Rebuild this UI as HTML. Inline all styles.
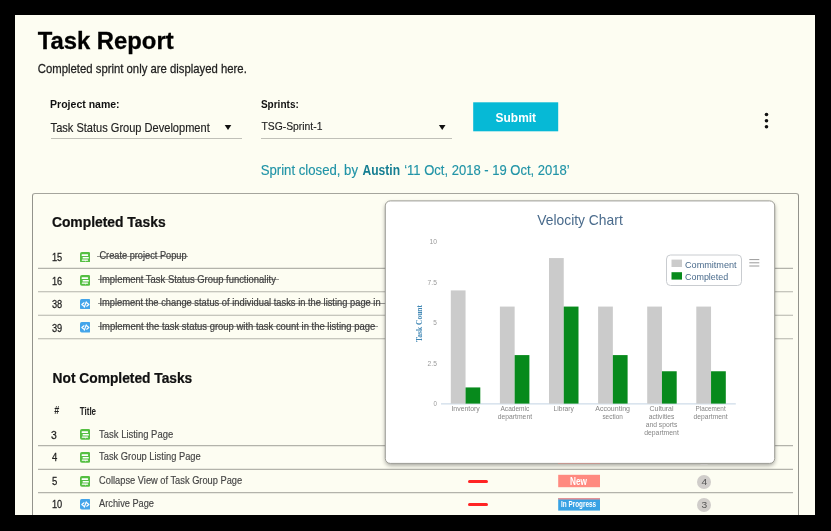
<!DOCTYPE html>
<html>
<head>
<meta charset="utf-8">
<title>Task Report</title>
<style>
html,body{margin:0;padding:0;}
body{width:831px;height:531px;background:#000;overflow:hidden;position:relative;font-family:"Liberation Sans",sans-serif;}
#page{position:absolute;left:0;top:0;width:831px;height:531px;overflow:hidden;filter:blur(0.4px);}
#bg{position:absolute;left:15px;top:15px;width:800px;height:500px;background:#fdfdf2;}
.t{position:absolute;white-space:nowrap;transform-origin:0 0;line-height:1;}
.strike{}
.a{position:absolute;}
.ul{position:absolute;height:1px;background:#c0c0b8;}
.arrow{position:absolute;width:0;height:0;border-left:3px solid transparent;border-right:3px solid transparent;border-top:4.5px solid #111;}
#submit{position:absolute;left:473px;top:102px;width:85px;height:29px;background:#06b9d6;}
#panel{position:absolute;left:32px;top:193px;width:765px;height:340px;border:1px solid #93938c;border-top-color:#a5a59d;border-radius:3px;}
.rl{position:absolute;left:38px;width:755px;height:1px;background:#b9b9b0;}
.sl{position:absolute;height:1px;background:rgba(80,80,80,0.6);}
#popup{position:absolute;left:385px;top:201px;width:390px;height:263px;background:#fff;border:1px solid #9b9b95;border-radius:5px;box-shadow:0 2px 4px rgba(0,0,0,0.33);box-sizing:border-box;}
.dash{position:absolute;left:467.8px;width:20.4px;height:3px;background:#ff2424;border-radius:1.5px;}
.tag{position:absolute;left:558.3px;width:41.8px;}
.badge{position:absolute;left:697px;width:14px;height:14px;border-radius:7px;background:#d0cdca;}
.frame{position:absolute;background:#000;}
</style>
</head>
<body>
<div id="page">
  <div id="bg"></div>
  <div class="ul" style="left:50.5px;top:138px;width:191.5px;"></div>
  <div class="ul" style="left:260.5px;top:138px;width:191px;"></div>
  <svg class="a" style="left:0;top:0;" width="831" height="200" viewBox="0 0 831 200"><path d="M224.7 125.1h6.6l-3.3 4.9z" fill="#111"/><path d="M438.9 125.1h6.6l-3.3 4.9z" fill="#111"/></svg>
  <svg class="a" style="left:0;top:0;" width="831" height="200" viewBox="0 0 831 200"><rect x="473.2" y="102.3" width="85" height="29" fill="#06b9d6"/></svg>
  <svg class="a" style="left:762px;top:110px;" width="9" height="20" viewBox="0 0 9 20"><circle cx="4.5" cy="4.5" r="1.8" fill="#111"/><circle cx="4.5" cy="10.7" r="1.8" fill="#111"/><circle cx="4.5" cy="16.8" r="1.8" fill="#111"/></svg>
  <div id="panel"></div>
  <svg class="a" style="left:0;top:0;" width="831" height="531" viewBox="0 0 831 531"><line x1="38" y1="268.4" x2="793" y2="268.4" stroke="#b3b3ab" stroke-width="1.1"/><line x1="38" y1="291.8" x2="793" y2="291.8" stroke="#b3b3ab" stroke-width="1.1"/><line x1="38" y1="315.2" x2="793" y2="315.2" stroke="#b3b3ab" stroke-width="1.1"/><line x1="38" y1="338.8" x2="793" y2="338.8" stroke="#b3b3ab" stroke-width="1.1"/><line x1="38" y1="445.6" x2="793" y2="445.6" stroke="#b3b3ab" stroke-width="1.1"/><line x1="38" y1="469.4" x2="793" y2="469.4" stroke="#b3b3ab" stroke-width="1.1"/><line x1="38" y1="492.6" x2="793" y2="492.6" stroke="#b3b3ab" stroke-width="1.1"/></svg>
  <svg class="a" style="left:79.6px;top:251.7px;" width="10.5" height="10.8" viewBox="0 0 10.5 10.8"><rect x="0" y="0" width="10.5" height="10.7" rx="1.9" fill="#55bf42"/><rect x="1.6" y="2.3" width="6.5" height="1.7" rx="0.4" fill="#fff"/><rect x="2.6" y="4.9" width="6.2" height="1.7" rx="0.4" fill="#fff"/><rect x="1.8" y="7.5" width="6.3" height="1.3" rx="0.4" fill="#fff"/><path d="M4.4 8.6h2.2l-1.1 1.0z" fill="#fff"/></svg>
  <svg class="a" style="left:79.6px;top:275.2px;" width="10.5" height="10.8" viewBox="0 0 10.5 10.8"><rect x="0" y="0" width="10.5" height="10.7" rx="1.9" fill="#55bf42"/><rect x="1.6" y="2.3" width="6.5" height="1.7" rx="0.4" fill="#fff"/><rect x="2.6" y="4.9" width="6.2" height="1.7" rx="0.4" fill="#fff"/><rect x="1.8" y="7.5" width="6.3" height="1.3" rx="0.4" fill="#fff"/><path d="M4.4 8.6h2.2l-1.1 1.0z" fill="#fff"/></svg>
  <svg class="a" style="left:79.6px;top:298.7px;" width="10.5" height="10.8" viewBox="0 0 10.5 10.8"><rect x="0" y="0" width="10.5" height="10.5" rx="1.7" fill="#44a5ea"/><path d="M4.0 3.8L1.8 5.5l2.2 1.7M6.7 3.8l2.2 1.7-2.2 1.7M6.2 2.9L4.4 8.1" stroke="#fff" stroke-width="1.15" fill="none" stroke-linecap="round" stroke-linejoin="round"/></svg>
  <svg class="a" style="left:79.6px;top:322.2px;" width="10.5" height="10.8" viewBox="0 0 10.5 10.8"><rect x="0" y="0" width="10.5" height="10.5" rx="1.7" fill="#44a5ea"/><path d="M4.0 3.8L1.8 5.5l2.2 1.7M6.7 3.8l2.2 1.7-2.2 1.7M6.2 2.9L4.4 8.1" stroke="#fff" stroke-width="1.15" fill="none" stroke-linecap="round" stroke-linejoin="round"/></svg>
  <svg class="a" style="left:79.6px;top:429.0px;" width="10.5" height="10.8" viewBox="0 0 10.5 10.8"><rect x="0" y="0" width="10.5" height="10.7" rx="1.9" fill="#55bf42"/><rect x="1.6" y="2.3" width="6.5" height="1.7" rx="0.4" fill="#fff"/><rect x="2.6" y="4.9" width="6.2" height="1.7" rx="0.4" fill="#fff"/><rect x="1.8" y="7.5" width="6.3" height="1.3" rx="0.4" fill="#fff"/><path d="M4.4 8.6h2.2l-1.1 1.0z" fill="#fff"/></svg>
  <svg class="a" style="left:79.6px;top:452.4px;" width="10.5" height="10.8" viewBox="0 0 10.5 10.8"><rect x="0" y="0" width="10.5" height="10.7" rx="1.9" fill="#55bf42"/><rect x="1.6" y="2.3" width="6.5" height="1.7" rx="0.4" fill="#fff"/><rect x="2.6" y="4.9" width="6.2" height="1.7" rx="0.4" fill="#fff"/><rect x="1.8" y="7.5" width="6.3" height="1.3" rx="0.4" fill="#fff"/><path d="M4.4 8.6h2.2l-1.1 1.0z" fill="#fff"/></svg>
  <svg class="a" style="left:79.6px;top:475.9px;" width="10.5" height="10.8" viewBox="0 0 10.5 10.8"><rect x="0" y="0" width="10.5" height="10.7" rx="1.9" fill="#55bf42"/><rect x="1.6" y="2.3" width="6.5" height="1.7" rx="0.4" fill="#fff"/><rect x="2.6" y="4.9" width="6.2" height="1.7" rx="0.4" fill="#fff"/><rect x="1.8" y="7.5" width="6.3" height="1.3" rx="0.4" fill="#fff"/><path d="M4.4 8.6h2.2l-1.1 1.0z" fill="#fff"/></svg>
  <svg class="a" style="left:79.6px;top:499.3px;" width="10.5" height="10.8" viewBox="0 0 10.5 10.8"><rect x="0" y="0" width="10.5" height="10.5" rx="1.7" fill="#44a5ea"/><path d="M4.0 3.8L1.8 5.5l2.2 1.7M6.7 3.8l2.2 1.7-2.2 1.7M6.2 2.9L4.4 8.1" stroke="#fff" stroke-width="1.15" fill="none" stroke-linecap="round" stroke-linejoin="round"/></svg>
  <div class="sl" style="left:97.4px;top:255.8px;width:90.8px;"></div>
  <div class="sl" style="left:97.6px;top:279.3px;width:181.2px;"></div>
  <div class="sl" style="left:97.6px;top:302.8px;width:288.4px;"></div>
  <div class="sl" style="left:97.6px;top:326.3px;width:280.2px;"></div>
  <div class="dash" style="top:479.7px;"></div>
  <div class="dash" style="top:503.2px;"></div>
  <svg class="a" style="left:0;top:0;" width="831" height="531" viewBox="0 0 831 531"><rect x="558.2" y="451.6" width="41.8" height="12.4" fill="#ff8a80"/><rect x="558.2" y="474.8" width="41.8" height="12.4" fill="#ff8a80"/><rect x="558.2" y="498.1" width="41.8" height="12.5" fill="#38a2e4"/><rect x="558.2" y="498.1" width="41.8" height="1.4" fill="#f58f8c"/></svg>
  <div class="badge" style="top:451px;"></div>
  <div class="badge" style="top:474.6px;"></div>
  <div class="badge" style="top:497.7px;"></div>
  <svg class="a" style="left:0;top:0;overflow:visible;" width="831" height="531" viewBox="0 0 831 531"><defs><filter id="sh" x="-5%" y="-5%" width="110%" height="112%"><feGaussianBlur stdDeviation="2"/></filter></defs><rect x="385.3" y="203" width="389.4" height="262.4" rx="5" fill="#000" opacity="0.36" filter="url(#sh)"/><rect x="385.3" y="200.9" width="389.4" height="262.5" rx="5" fill="#fff" stroke="#9d9d96" stroke-width="1"/></svg>
  <div class="a" style="left:558.3px;top:463.2px;width:41.8px;height:1px;background:rgba(255,138,128,0.35);"></div>
  <div class="a" style="left:700px;top:464px;width:8px;height:1.4px;background:#c9c7c3;border-radius:0 0 4px 4px;"></div>
  <svg class="a" style="left:0;top:0;" width="831" height="531" viewBox="0 0 831 531"><line x1="441" y1="403.9" x2="735.8" y2="403.9" stroke="#c3d3e3" stroke-width="1"/><rect x="450.80" y="290.41" width="14.75" height="113.19" fill="#cbcbcb"/><rect x="465.55" y="387.43" width="14.75" height="16.17" fill="#078a1c"/><rect x="499.90" y="306.58" width="14.75" height="97.02" fill="#cbcbcb"/><rect x="514.65" y="355.09" width="14.75" height="48.51" fill="#078a1c"/><rect x="549.00" y="258.07" width="14.75" height="145.53" fill="#cbcbcb"/><rect x="563.75" y="306.58" width="14.75" height="97.02" fill="#078a1c"/><rect x="598.10" y="306.58" width="14.75" height="97.02" fill="#cbcbcb"/><rect x="612.85" y="355.09" width="14.75" height="48.51" fill="#078a1c"/><rect x="647.20" y="306.58" width="14.75" height="97.02" fill="#cbcbcb"/><rect x="661.95" y="371.26" width="14.75" height="32.34" fill="#078a1c"/><rect x="696.30" y="306.58" width="14.75" height="97.02" fill="#cbcbcb"/><rect x="711.05" y="371.26" width="14.75" height="32.34" fill="#078a1c"/><rect x="666.5" y="255" width="75" height="30.5" rx="4" fill="#fff" stroke="#c9ccd0" stroke-width="1"/><rect x="671.5" y="259.6" width="10.5" height="7.4" fill="#cbcbcb"/><rect x="671.5" y="272.2" width="10.5" height="7.4" fill="#078a1c"/><line x1="749.3" y1="259.6" x2="759.3" y2="259.6" stroke="#9a9a9a" stroke-width="1"/><line x1="749.3" y1="262.8" x2="759.3" y2="262.8" stroke="#9a9a9a" stroke-width="1"/><line x1="749.3" y1="266.0" x2="759.3" y2="266.0" stroke="#9a9a9a" stroke-width="1"/></svg>
  <div class="t" style="left:415.5px;top:341.5px;font-family:'Liberation Serif',serif;font-weight:bold;font-size:7.5px;color:#3f86b4;transform:rotate(-90deg) scaleX(1);">Task Count</div>
  <div class="t" style="left:37px;top:28px;font-size:25px;font-weight:bold;color:#000;-webkit-text-stroke:0.3px #000;transform:translate(0.70px,0.27px) scale(0.953,0.978);">Task Report</div>
  <div class="t" style="left:37px;top:62px;font-size:12.5px;color:#222;-webkit-text-stroke:0.25px #222;transform:translate(0.80px,0.43px) scale(0.906,1.041);">Completed sprint only are displayed here.</div>
  <div class="t" style="left:50px;top:98px;font-size:12px;font-weight:bold;color:#111;transform:translate(0.10px,0.21px) scale(0.876,0.952);">Project name:</div>
  <div class="t" style="left:50px;top:121px;font-size:12px;color:#222;-webkit-text-stroke:0.15px #222;transform:translate(0.60px,0.67px) scale(0.921,0.996);">Task Status Group Development</div>
  <div class="t" style="left:260px;top:98px;font-size:12px;font-weight:bold;color:#111;transform:translate(0.90px,0.21px) scale(0.836,0.952);">Sprints:</div>
  <div class="t" style="left:261px;top:120px;font-size:12px;color:#222;-webkit-text-stroke:0.15px #222;transform:translate(0.40px,0.82px) scale(0.864,0.960);">TSG-Sprint-1</div>
  <div class="t" style="left:495px;top:110px;font-size:13px;font-weight:bold;color:#fff;transform:translate(0.60px,0.78px) scale(0.919,1.049);">Submit</div>
  <div class="t" style="left:260px;top:162px;font-size:14px;color:#2194a7;-webkit-text-stroke:0.15px #2194a7;transform:translate(0.70px,0.90px) scale(0.940,1.022);">Sprint closed, by</div>
  <div class="t" style="left:362px;top:163px;font-size:14px;font-weight:bold;color:#157e92;transform:translate(0.50px,0.10px) scale(0.861,0.992);">Austin</div>
  <div class="t" style="left:404px;top:162px;font-size:14px;color:#2194a7;-webkit-text-stroke:0.15px #2194a7;transform:translate(0.20px,0.90px) scale(0.930,1.022);">‘11 Oct, 2018 - 19 Oct, 2018’</div>
  <div class="t" style="left:51px;top:214px;font-size:16px;font-weight:bold;color:#111;-webkit-text-stroke:0.25px #111;transform:translate(0.90px,0.63px) scale(0.866,0.967);">Completed Tasks</div>
  <div class="t" style="left:52px;top:370px;font-size:16px;font-weight:bold;color:#111;-webkit-text-stroke:0.25px #111;transform:translate(0.60px,0.53px) scale(0.860,0.967);">Not Completed Tasks</div>
  <div class="t" style="left:54px;top:406px;font-size:9px;font-weight:bold;color:#222;transform:translate(0.20px,0.37px) scale(0.997,1.145);">#</div>
  <div class="t" style="left:79px;top:406px;font-size:9px;font-weight:bold;color:#222;transform:translate(0.70px,0.33px) scale(0.894,1.180);">Title</div>
  <div class="t" style="left:51px;top:251px;font-size:11px;color:#222;-webkit-text-stroke:0.25px #222;transform:translate(0.90px,0.65px) scale(0.841,1.040);">15</div>
  <div class="t" style="left:99px;top:249px;font-size:10.5px;color:#3e3e3e;-webkit-text-stroke:0.2px #3e3e3e;transform:translate(0.40px,0.97px) scale(0.879,1.026);">Create project Popup</div>
  <div class="t" style="left:51px;top:275px;font-size:11px;color:#222;-webkit-text-stroke:0.25px #222;transform:translate(0.90px,0.15px) scale(0.841,1.040);">16</div>
  <div class="t" style="left:99px;top:273px;font-size:10.5px;color:#3e3e3e;-webkit-text-stroke:0.2px #3e3e3e;transform:translate(0.40px,0.47px) scale(0.898,1.026);">Implement Task Status Group functionality</div>
  <div class="t" style="left:51px;top:298px;font-size:11px;color:#222;-webkit-text-stroke:0.25px #222;transform:translate(0.90px,0.65px) scale(0.841,1.040);">38</div>
  <div class="t" style="left:99px;top:296px;font-size:10.5px;color:#3e3e3e;-webkit-text-stroke:0.2px #3e3e3e;transform:translate(0.40px,0.97px) scale(0.889,1.026);">Implement the change status of individual tasks in the listing page in</div>
  <div class="t" style="left:51px;top:322px;font-size:11px;color:#222;-webkit-text-stroke:0.25px #222;transform:translate(0.90px,0.15px) scale(0.841,1.040);">39</div>
  <div class="t" style="left:99px;top:320px;font-size:10.5px;color:#3e3e3e;-webkit-text-stroke:0.2px #3e3e3e;transform:translate(0.40px,0.47px) scale(0.900,1.026);">Implement the task status group with task count in the listing page</div>
  <div class="t" style="left:50px;top:429px;font-size:11px;color:#222;-webkit-text-stroke:0.25px #222;transform:translate(0.90px,0.15px) scale(0.947,1.040);">3</div>
  <div class="t" style="left:99px;top:428px;font-size:10.5px;color:#444;-webkit-text-stroke:0.15px #444;transform:translate(0.10px,0.69px) scale(0.900,1.013);">Task Listing Page</div>
  <div class="t" style="left:51px;top:451px;font-size:11px;color:#222;-webkit-text-stroke:0.25px #222;transform:translate(0.90px,0.75px) scale(0.865,1.040);">4</div>
  <div class="t" style="left:99px;top:451px;font-size:10.5px;color:#444;-webkit-text-stroke:0.15px #444;transform:translate(0.10px,0.19px) scale(0.888,1.013);">Task Group Listing Page</div>
  <div class="t" style="left:51px;top:475px;font-size:11px;color:#222;-webkit-text-stroke:0.25px #222;transform:translate(0.90px,0.35px) scale(0.865,1.040);">5</div>
  <div class="t" style="left:99px;top:474px;font-size:10.5px;color:#444;-webkit-text-stroke:0.15px #444;transform:translate(0.10px,0.99px) scale(0.884,1.013);">Collapse View of Task Group Page</div>
  <div class="t" style="left:51px;top:498px;font-size:11px;color:#222;-webkit-text-stroke:0.25px #222;transform:translate(0.90px,0.45px) scale(0.841,1.040);">10</div>
  <div class="t" style="left:99px;top:498px;font-size:10.5px;color:#444;-webkit-text-stroke:0.15px #444;transform:translate(0.10px,0.09px) scale(0.879,1.013);">Archive Page</div>
  <div class="t" style="left:570px;top:476px;font-size:9px;font-weight:bold;color:#fff;transform:translate(0.00px,0.85px) scale(0.918,1.162);">New</div>
  <div class="t" style="left:561px;top:500px;font-size:9px;font-weight:bold;color:#fff;transform:translate(0.10px,0.82px) scale(0.705,0.933);">In Progress</div>
  <div class="t" style="left:701px;top:477px;font-size:10px;color:#555;transform:translate(0.40px,0.69px) scale(1.025,0.953);">4</div>
  <div class="t" style="left:701px;top:500px;font-size:10px;color:#555;transform:translate(0.40px,0.79px) scale(1.025,0.953);">3</div>
  <div class="t" style="left:537px;top:212px;font-size:14.5px;color:#4a6b8c;transform:translate(0.30px,0.61px) scale(0.955,1.070);">Velocity Chart</div>
  <div class="t" style="left:685px;top:260px;font-size:10px;color:#4a6b8c;transform:translate(0.00px,0.09px) scale(0.910,0.953);">Commitment</div>
  <div class="t" style="left:685px;top:272px;font-size:10px;color:#4a6b8c;transform:translate(0.00px,0.39px) scale(0.895,0.953);">Completed</div>
  <div class="t" style="left:429px;top:237px;font-size:7px;color:#999;transform:translate(0.40px,0.19px) scale(0.962,1.144);">10</div>
  <div class="t" style="left:427px;top:277px;font-size:7px;color:#999;transform:translate(0.60px,0.69px) scale(0.955,1.144);">7.5</div>
  <div class="t" style="left:433px;top:317px;font-size:7px;color:#999;transform:translate(0.30px,0.89px) scale(0.922,1.144);">5</div>
  <div class="t" style="left:427px;top:358px;font-size:7px;color:#999;transform:translate(0.60px,0.69px) scale(0.955,1.144);">2.5</div>
  <div class="t" style="left:433px;top:399px;font-size:7px;color:#999;transform:translate(0.50px,0.19px) scale(0.870,1.144);">0</div>
  <div class="t" style="left:451px;top:405px;font-size:7px;color:#858585;transform:translate(0.45px,0.28px) scale(0.983,1.020);">Inventory</div>
  <div class="t" style="left:500px;top:405px;font-size:7px;color:#858585;transform:translate(0.45px,0.28px) scale(0.940,1.020);">Academic</div>
  <div class="t" style="left:497px;top:413px;font-size:7px;color:#858585;transform:translate(0.75px,0.18px) scale(0.968,1.020);">department</div>
  <div class="t" style="left:553px;top:405px;font-size:7px;color:#858585;transform:translate(0.50px,0.28px) scale(0.953,1.020);">Library</div>
  <div class="t" style="left:595px;top:405px;font-size:7px;color:#858585;transform:translate(0.25px,0.28px) scale(1.002,1.020);">Accounting</div>
  <div class="t" style="left:602px;top:413px;font-size:7px;color:#858585;transform:translate(0.40px,0.18px) scale(0.919,1.020);">section</div>
  <div class="t" style="left:649px;top:405px;font-size:7px;color:#858585;transform:translate(0.45px,0.28px) scale(0.999,1.020);">Cultural</div>
  <div class="t" style="left:648px;top:413px;font-size:7px;color:#858585;transform:translate(0.70px,0.18px) scale(0.954,1.020);">activities</div>
  <div class="t" style="left:645px;top:421px;font-size:7px;color:#858585;transform:translate(0.70px,0.08px) scale(0.967,1.020);">and sports</div>
  <div class="t" style="left:644px;top:428px;font-size:7px;color:#858585;transform:translate(0.20px,0.98px) scale(0.977,1.020);">department</div>
  <div class="t" style="left:695px;top:405px;font-size:7px;color:#858585;transform:translate(0.50px,0.28px) scale(0.913,1.020);">Placement</div>
  <div class="t" style="left:693px;top:413px;font-size:7px;color:#858585;transform:translate(0.60px,0.18px) scale(0.960,1.020);">department</div>
  <div class="frame" style="left:0;top:0;width:831px;height:15px;"></div>
  <div class="frame" style="left:0;top:515px;width:831px;height:16px;"></div>
  <div class="frame" style="left:0;top:0;width:15px;height:531px;"></div>
  <div class="frame" style="left:815px;top:0;width:16px;height:531px;"></div>
</div>
</body>
</html>
